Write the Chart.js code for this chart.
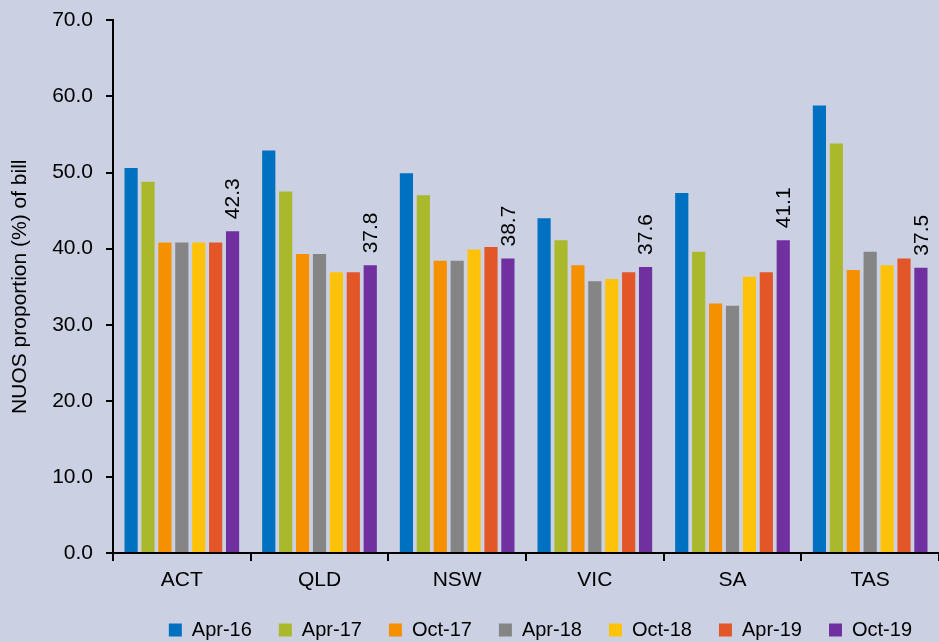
<!DOCTYPE html>
<html>
<head>
<meta charset="utf-8">
<script src="https://cdn.jsdelivr.net/npm/chart.js@4/dist/chart.umd.min.js"></script>
<style>
  body { margin: 0; background: #CBD1E3; }
  #myCanvas { display: block; background: #CBD1E3; }
</style>
</head>
<body>
<canvas id="myCanvas" width="939" height="642"></canvas>
<script>
// regions on the x axis
var regioni = ["ACT", "QLD", "NSW", "VIC", "SA", "TAS"];

// one array per survey period (NUOS % of bill)
var apr16 = [50.6, 52.9, 49.9, 44.0, 47.3, 58.8];
var apr17 = [48.8, 47.5, 47.0, 41.1, 39.6, 53.8];
var oct17 = [40.8, 39.3, 38.4, 37.8, 32.8, 37.2];
var apr18 = [40.8, 39.3, 38.4, 35.7, 32.5, 39.6];
var oct18 = [40.8, 36.9, 39.9, 36.0, 36.3, 37.8];
var apr19 = [40.8, 36.9, 40.2, 36.9, 36.9, 38.7];
var oct19 = [42.3, 37.8, 38.7, 37.6, 41.1, 37.5];

var etichette = ["Apr-16", "Apr-17", "Oct-17", "Apr-18", "Oct-18", "Apr-19", "Oct-19"];
var colori = ["#0070C0", "#A9B92B", "#F59100", "#858585", "#FFC20A", "#E25628", "#7030A0"];
var serie = [apr16, apr17, oct17, apr18, oct18, apr19, oct19];

var yTicks = [0, 10, 20, 30, 40, 50, 60, 70];

var font = "'Liberation Sans', Arial, sans-serif";

var datasets = [];
for (var i = 0; i < serie.length; i++) {
    datasets.push({
        label: etichette[i],
        data: serie[i],
        backgroundColor: colori[i],
        borderWidth: 0,
        categoryPercentage: 0.86,
        barPercentage: 0.78
    });
}

// rotated value labels above the last series only
var valoriUltimi = {
    id: "valoriUltimi",
    afterDatasetsDraw: function (chart) {
        var ctx = chart.ctx;
        var last = chart.data.datasets.length - 1;
        var meta = chart.getDatasetMeta(last);
        ctx.save();
        ctx.fillStyle = "#000";
        ctx.font = "21px " + font;
        ctx.textAlign = "left";
        ctx.textBaseline = "middle";
        meta.data.forEach(function (bar, j) {
            var v = chart.data.datasets[last].data[j];
            ctx.save();
            ctx.translate(bar.x + 1, bar.y - 12);
            ctx.rotate(-Math.PI / 2);
            ctx.fillText(v.toFixed(1), 0, 0);
            ctx.restore();
        });
        ctx.restore();
    }
};

var myCanvas = document.getElementById("myCanvas").getContext("2d");
var chart = new Chart(myCanvas, {
    type: "bar",
    data: {
        labels: regioni,
        datasets: datasets
    },
    options: {
        responsive: false,
        animation: false,
        layout: { padding: { top: 0, right: 0, left: 0, bottom: -8 } },
        plugins: {
            legend: {
                position: "bottom",
                align: "end",
                labels: {
                    boxWidth: 13,
                    boxHeight: 13,
                    padding: 27,
                    color: "#000",
                    font: { size: 20, family: font }
                }
            },
            tooltip: { enabled: false }
        },
        scales: {
            x: {
                grid: {
                    display: true,
                    drawOnChartArea: false,
                    drawTicks: true,
                    tickLength: 8,
                    color: "#000",
                    lineWidth: 2
                },
                border: { display: true, color: "#000", width: 2 },
                ticks: {
                    color: "#000",
                    padding: 7,
                    font: { size: 21, family: font }
                },
                afterFit: function (scale) { scale.height = 40; }
            },
            y: {
                min: 0,
                max: 70,
                afterBuildTicks: function (scale) {
                    scale.ticks = yTicks.map(function (v) { return { value: v }; });
                },
                grid: {
                    display: true,
                    drawOnChartArea: false,
                    drawTicks: true,
                    tickLength: 7,
                    color: "#000",
                    lineWidth: 2
                },
                border: { display: true, color: "#000", width: 2 },
                ticks: {
                    color: "#000",
                    padding: 13,
                    font: { size: 21, family: font, lineHeight: 0.7 },
                    callback: function (v) { return Number(v).toFixed(1); }
                },
                title: {
                    display: true,
                    text: "NUOS proportion (%) of bill",
                    color: "#000",
                    padding: { top: 8, bottom: 0 },
                    font: { size: 21, family: font }
                },
                afterFit: function (scale) { scale.width = 113; }
            }
        }
    },
    plugins: [valoriUltimi]
});
</script>
</body>
</html>
